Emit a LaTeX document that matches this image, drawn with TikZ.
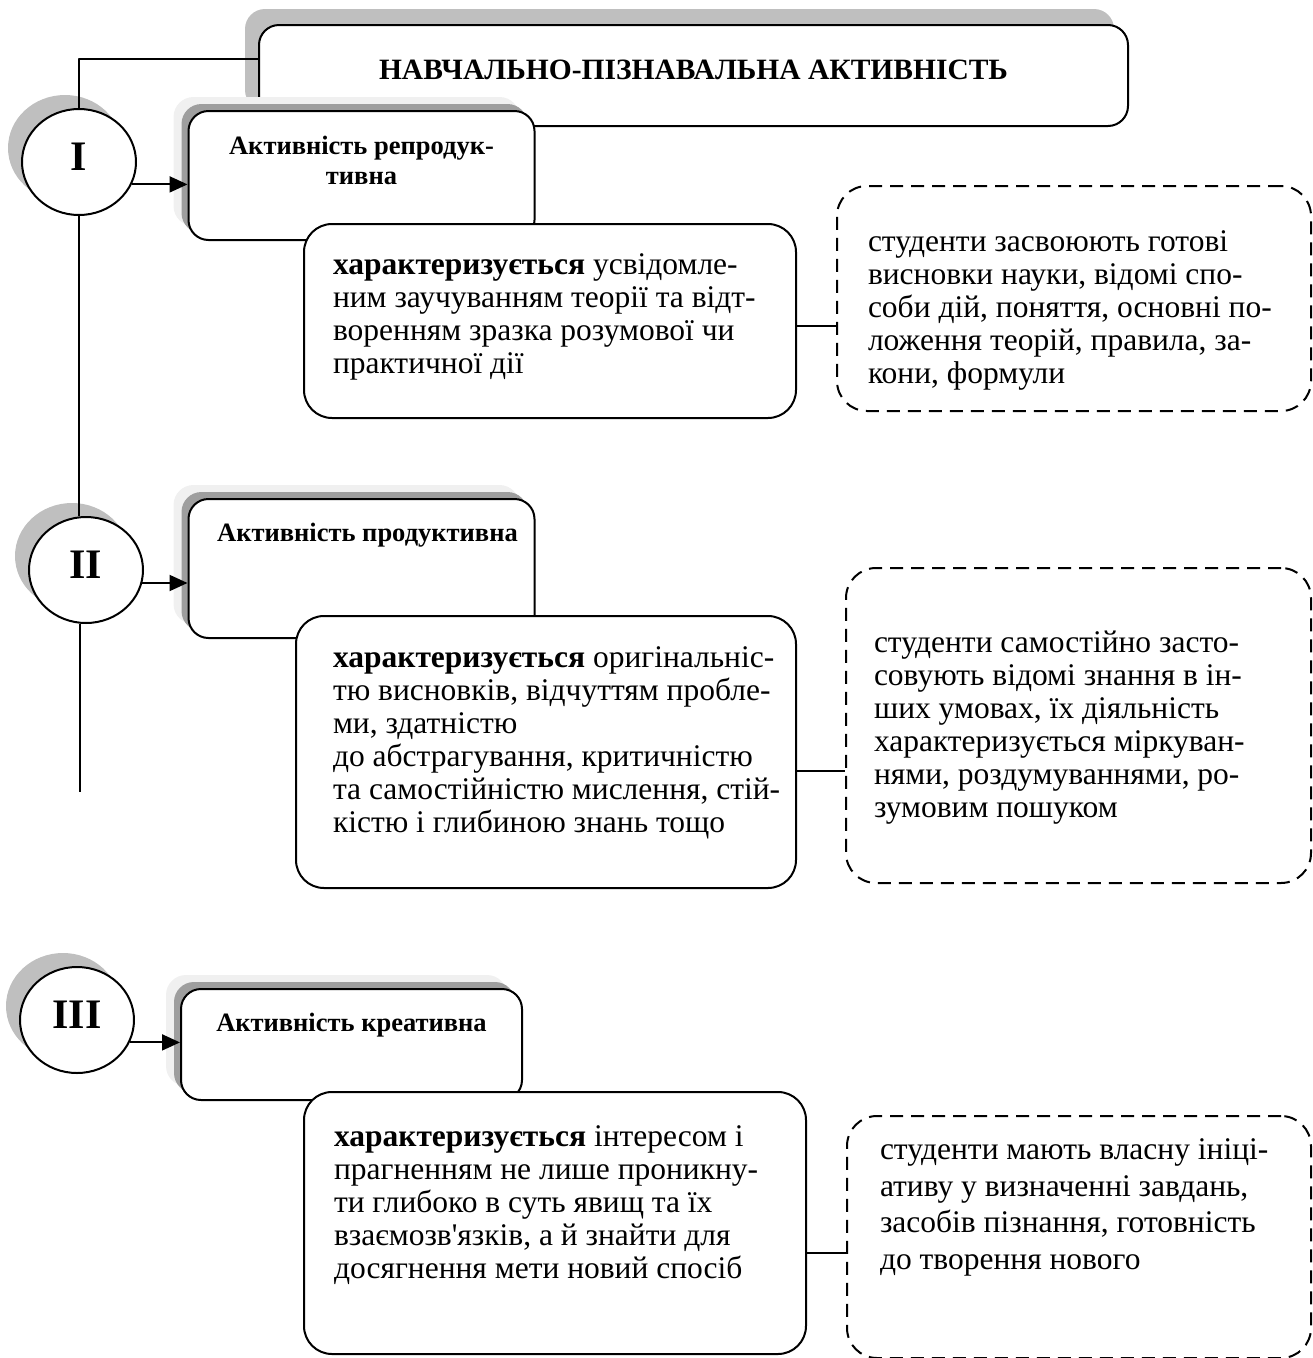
\documentclass[tikz,border=0pt]{standalone}
\usepackage{fontspec}
\setmainfont{Liberation Serif}
\usetikzlibrary{positioning,shapes.geometric,shadows,arrows.meta}

\begin{document}
\begin{tikzpicture}[x=1pt,y=-1pt,>={Triangle[length=18pt,width=16pt]},
	line width=2pt, line join=round, every node/.style={inner sep=0pt},
	circ/.style={ellipse,draw,fill=white,minimum width=114pt,minimum height=106pt,
		font=\fontsize{42}{42}\selectfont\bfseries,text height=28pt,text depth=12pt,
		drop shadow={shadow xshift=-14pt,shadow yshift=14pt,fill=black!25,opacity=1}},
	head/.style={draw,fill=white,rounded corners=20pt,anchor=north west,
		font=\fontsize{29.5}{32}\selectfont\bfseries,text height=19pt,text depth=12pt,
		drop shadow={shadow xshift=-14pt,shadow yshift=16pt,fill=black!25,opacity=1}},
	kind/.style={draw,fill=white,rounded corners=20pt,anchor=north west,
		drop shadow={shadow xshift=-15pt,shadow yshift=14pt,fill=black!6,opacity=1},
		drop shadow={shadow xshift=-7pt,shadow yshift=7pt,fill=black!38,opacity=1}},
	desc/.style={draw,fill=white,rounded corners=28pt,anchor=north west},
	note/.style={draw,fill=white,dash pattern=on 13pt off 8pt,rounded corners=30pt,anchor=north west},
	kindtxt/.style={align=center,font=\fontsize{26.5}{30}\selectfont\bfseries},
	txt/.style={align=left,font=\fontsize{31.5}{33}\selectfont}]
	\useasboundingbox (0,0) rectangle (1313,1358);
	% заголовок
	\node[head,minimum width=869pt,minimum height=101pt] (title) at (258,24) {НАВЧАЛЬНО-ПІЗНАВАЛЬНА АКТИВНІСТЬ};
	% рівні
	\node[circ] (cI) at (79,162) {I};
	\node[circ] (cII) at (86,570) {II};
	\node[circ] (cIII) at (77,1020) {III};
	\coordinate (e2) at (80,792);
	% види активності
	\node[kind,minimum width=346pt,minimum height=129pt] (k1) at (187.5,110) {};
	\node[kind,minimum width=346pt,minimum height=139pt] (k2) at (187.5,498) {};
	\node[kind,minimum width=341pt,minimum height=111pt] (k3) at (180,988) {};
	\node[desc,minimum width=492pt,minimum height=194pt] (d1) at (303,223) {};
	\node[desc,minimum width=500pt,minimum height=272pt] (d2) at (295,615) {};
	\node[desc,minimum width=502pt,minimum height=262pt] (d3) at (303,1091) {};
	\node[note,minimum width=474pt,minimum height=225pt] (n1) at (836,185) {};
	\node[note,minimum width=465pt,minimum height=315pt] (n2) at (845,567) {};
	\node[note,minimum width=464pt,minimum height=242pt] (n3) at (846,1115) {};
	% тексти
	\node[kindtxt,below=25pt of k1.north] (k1t) {Активність репродук-\\тивна};
	\node[kindtxt,below=24pt of k2.north,xshift=6pt] (k2t) {Активність продуктивна};
	\node[kindtxt,below=24pt of k3.north] (k3t) {Активність креативна};
	\node[txt,below right=29.5pt and 29pt of d1.north west] (d1t) {\textbf{характеризується} усвідомле-\\ним заучуванням теорії та відт-\\воренням зразка розумової чи\\практичної дії};
	\node[txt,below right=30.5pt and 37pt of d2.north west] (d2t) {\textbf{характеризується} оригінальніс-\\тю висновків, відчуттям пробле-\\ми, здатністю\\до абстрагування, критичністю\\та самостійністю мислення, стій-\\кістю і глибиною знань тощо};
	\node[txt,below right=33.5pt and 30pt of d3.north west] (d3t) {\textbf{характеризується} інтересом і\\прагненням не лише проникну-\\ти глибоко в суть явищ та їх\\взаємозв\textquotesingle язків, а й знайти для\\досягнення мети новий спосіб};
	\node[txt,below right=44.5pt and 31pt of n1.north west] (n1t) {студенти засвоюють готові\\висновки науки, відомі спо-\\соби дій, поняття, основні по-\\ложення теорій, правила, за-\\кони, формули};
	\node[txt,below right=62.5pt and 28pt of n2.north west] (n2t) {студенти самостійно засто-\\совують відомі знання в ін-\\ших умовах, їх діяльність\\характеризується міркуван-\\нями, роздумуваннями, ро-\\зумовим пошуком};
	\node[txt,font=\fontsize{31.5}{36.7}\selectfont,below right=22.5pt and 33pt of n3.north west] (n3t) {студенти мають власну ініці-\\ативу у визначенні завдань,\\засобів пізнання, готовність\\до творення нового};
	% лінії
	\draw (cI.north) |- ([yshift=16.5pt]title.west);
	\draw (cI.south) -- (cI.south |- cII.north);
	\draw (e2 |- cII.south) -- (e2);
	\draw[->] (cI.-23) -- (cI.-23 -| k1.west);
	\draw[->] (cII.-13) -- (cII.-13 -| k2.west);
	\draw[->] (cIII.-23) -- (cIII.-23 -| k3.west);
	\draw ([yshift=-5pt]d1.east) -- ([yshift=-5pt]d1.east -| n1.west);
	\draw ([yshift=-19pt]d2.east) -- ([yshift=-19pt]d2.east -| n2.west);
	\draw ([yshift=-30pt]d3.east) -- ([yshift=-30pt]d3.east -| n3.west);
\end{tikzpicture}
\end{document}
